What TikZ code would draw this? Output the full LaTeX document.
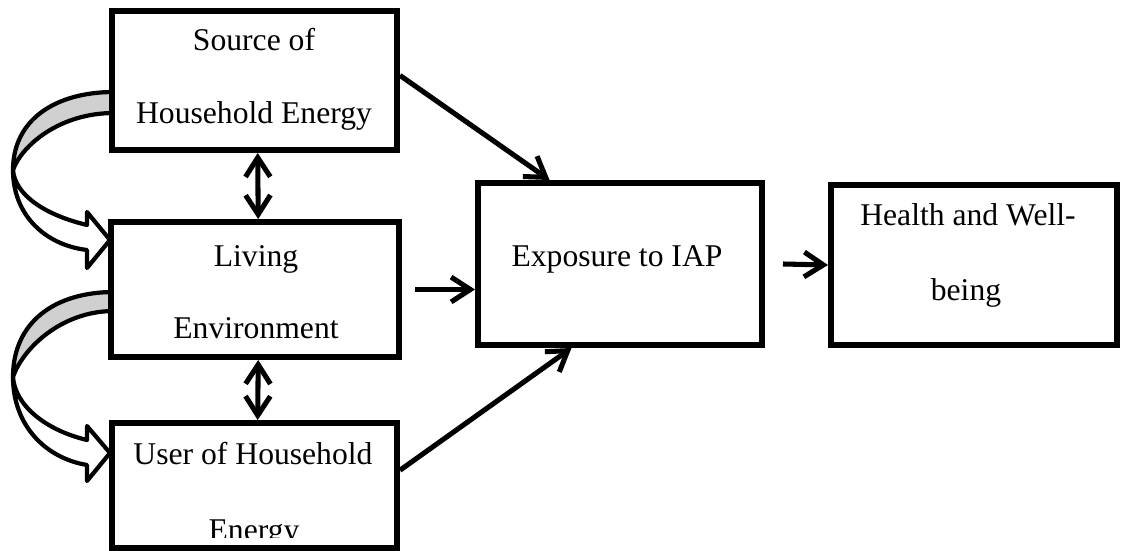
\documentclass[tikz,border=0pt]{standalone}
\usepackage{fontspec}
\setmainfont{Liberation Serif}
\usetikzlibrary{arrows.meta}
\definecolor{bandgray}{RGB}{208,208,208}

\begin{document}
\begin{tikzpicture}
      [
      x=0.025cm, y=-0.025cm,
      box/.style={draw,fill=white,line width=4.2pt,rectangle,inner sep=0pt},
      txt/.style={anchor=base,inner sep=0pt,font=\fontsize{22.5}{27}\selectfont},
      conn/.style={line width=3.6pt,-{Straight Barb[length=0.48cm,width=0.62cm]}},
      both/.style={line width=3.6pt,{Straight Barb[length=0.48cm,width=0.62cm]}-{Straight Barb[length=0.48cm,width=0.62cm]}},
      band/.style={line width=3pt,line join=round}
      ]
      \useasboundingbox (0,0) rectangle (1124,551);

      % curved arrows on the left
      \filldraw [band, fill=bandgray] (114,92) .. controls (55,92) and (13,120) .. (13,170)
        .. controls (22,145) and (60,113) .. (114,113) -- cycle;
      \filldraw [band, fill=white] (13,170) .. controls (13,215) and (45,245) .. (87,250)
        -- (87,268) -- (110,240) -- (87,212) -- (87,225)
        .. controls (45,215) and (15,195) .. (13,170) -- cycle;

      \filldraw [band, fill=bandgray] (114,292) .. controls (55,292) and (13,322) .. (13,377)
        .. controls (22,350) and (60,311) .. (114,311) -- cycle;
      \filldraw [band, fill=white] (13,377) .. controls (13,425) and (45,458) .. (87,465)
        -- (87,481) -- (110,453) -- (87,426) -- (87,440)
        .. controls (45,430) and (15,405) .. (13,377) -- cycle;

      \node (src) at (254.5,80.5) [box,minimum width=7.125cm,minimum height=3.475cm] {};
      \node (liv) at (255,289.5) [box,minimum width=7.2cm,minimum height=3.375cm] {};
      \node (usr) at (254.5,485.5) [box,minimum width=7.125cm,minimum height=3.125cm] {};
      \node (exp) at (620,264) [box,minimum width=7.1cm,minimum height=4.05cm] {};
      \node (hlth) at (974,265) [box,minimum width=7.15cm,minimum height=4cm] {};

      \node (srcA) at (254,51) [txt] {Source of};
      \node (srcB) at (254,124) [txt] {Household Energy};
      \node (livA) at (256,266) [txt] {Living};
      \node (livB) at (256,338) [txt] {Environment};
      \node (usrA) at (253,464) [txt] {User of Household};
      \begin{scope}
        \clip (usr.north west) rectangle (397,537);
        \node (usrB) at (254,540) [txt] {Energy};
      \end{scope}
      \node (expA) at (617,266) [txt] {Exposure to IAP};
      \node (hlthA) at (968,226) [txt] {Health and Well-};
      \node (hlthB) at (966,300) [txt] {being};

      \draw [conn] (src.2) to (exp.130);
      \draw [conn] ([xshift=0.33cm]liv.east) to (liv.east -| exp.west);
      \draw [conn] (usr.6) to (exp.240);
      \draw [conn] ([xshift=0.45cm]exp.east) to (hlth.west);
      \draw [both] ([xshift=0.08cm]src.south) to ([xshift=0.08cm]liv.north);
      \draw [both] ([xshift=0.08cm]liv.south) to ([xshift=0.08cm]usr.north);
    \end{tikzpicture}
\end{document}
